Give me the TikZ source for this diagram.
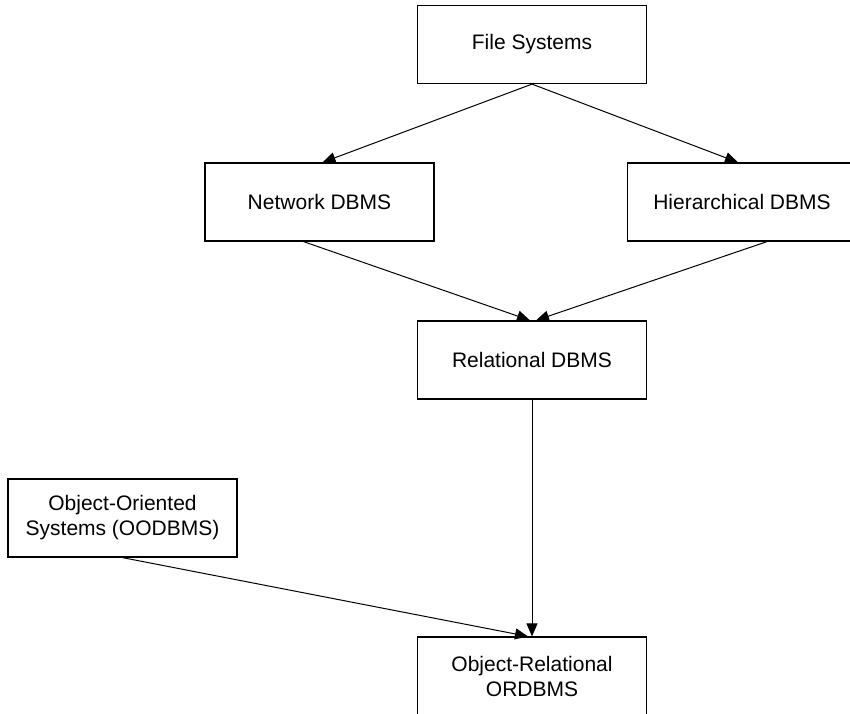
\documentclass[tikz,border=0pt]{standalone}
\usepackage{fontspec}
\setmainfont{Liberation Sans}
\usetikzlibrary{arrows.meta}

\begin{document}
\begin{tikzpicture}[x=1pt, y=-1pt,
    dbbox/.style={draw, line width=1.2pt, minimum width=229pt, minimum height=78pt,
        align=center, inner sep=0pt, font=\fontsize{21}{25}\selectfont},
    flow/.style={-{Triangle[length=13pt, width=11pt]}, line width=1pt}]
    \useasboundingbox (0, 0) rectangle (850, 713);
    \node[dbbox] (files) at (532, 44.5) {File Systems};
    \node[dbbox] (network) at (319.5, 202) {Network DBMS};
    \node[dbbox] (hier) at (742, 202) {Hierarchical DBMS};
    \node[dbbox] (rel) at (532, 360) {Relational DBMS};
    \node[dbbox] (oo) at (122.5, 518) {Object-Oriented\\Systems (OODBMS)};
    \node[dbbox] (objrel) at (532, 676) {Object-Relational\\ORDBMS};
    \draw[flow] (files.south) -- ([xshift=3pt]network.north);
    \draw[flow] (files.south) -- ([xshift=-4pt]hier.north);
    \draw[flow] ([xshift=-16pt]network.south) -- ([xshift=-2pt]rel.north);
    \draw[flow] ([xshift=25pt]hier.south) -- ([xshift=4pt]rel.north);
    \draw[flow] (rel.south) -- (objrel.north);
    \draw[flow] (oo.south) -- ([xshift=-4pt]objrel.north);
\end{tikzpicture}
\end{document}
